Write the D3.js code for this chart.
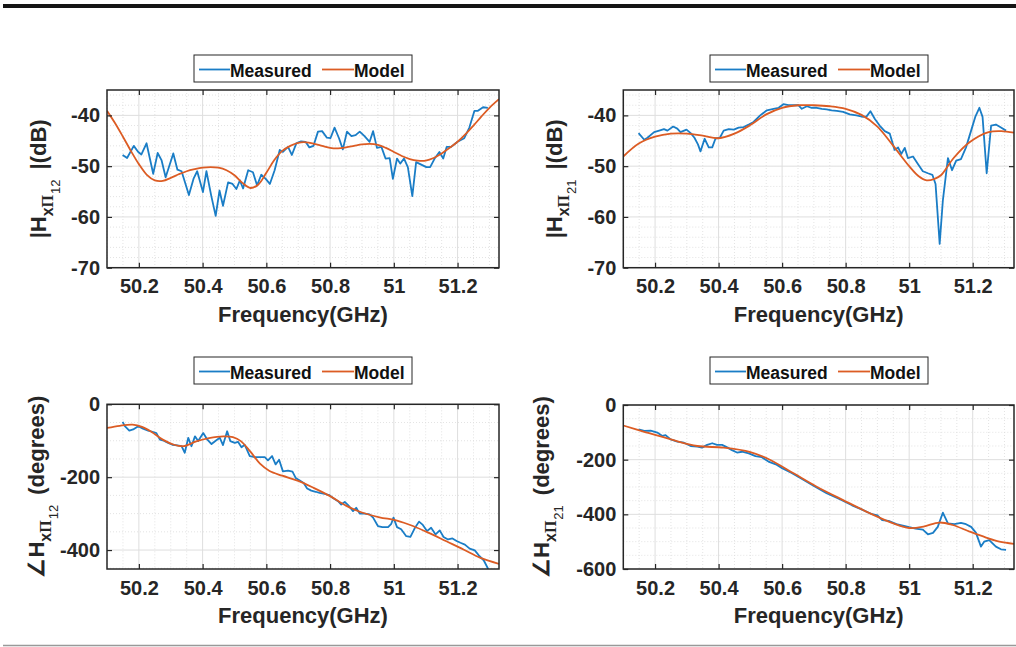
<!DOCTYPE html>
<html>
<head>
<meta charset="utf-8">
<script src="https://cdn.jsdelivr.net/npm/d3@7"></script>
<style>
  body { margin: 0; background: #fff; }
  svg { display: block; font-family: "Liberation Sans", Arial, sans-serif; }
</style>
</head>
<body>
<svg id="chart" width="1016" height="647"></svg>
<script>
// ---- data (frequency in GHz, value) ----
var mag12Measured = [[50.149,-47.8],[50.163,-48.4],[50.184,-46.0],[50.198,-47.2],[50.208,-47.7],[50.224,-45.5],[50.245,-51.5],[50.259,-47.4],[50.271,-48.8],[50.284,-52.2],[50.308,-47.5],[50.321,-50.7],[50.334,-51.0],[50.357,-55.7],[50.372,-52.4],[50.383,-51.0],[50.401,-55.1],[50.412,-51.0],[50.427,-55.8],[50.441,-59.8],[50.453,-54.8],[50.464,-57.8],[50.480,-53.2],[50.494,-53.5],[50.506,-54.5],[50.517,-52.8],[50.527,-54.4],[50.543,-50.8],[50.558,-51.2],[50.571,-53.8],[50.584,-51.7],[50.598,-52.5],[50.611,-53.5],[50.626,-50.8],[50.642,-46.8],[50.652,-47.2],[50.668,-46.2],[50.680,-47.8],[50.694,-45.5],[50.709,-45.1],[50.723,-45.2],[50.735,-46.3],[50.748,-46.0],[50.762,-43.2],[50.775,-43.1],[50.790,-44.4],[50.801,-44.5],[50.814,-42.4],[50.828,-44.5],[50.840,-46.7],[50.853,-43.2],[50.867,-44.1],[50.880,-43.9],[50.893,-43.2],[50.908,-44.1],[50.924,-45.2],[50.935,-43.1],[50.947,-46.4],[50.961,-46.2],[50.974,-48.5],[50.987,-48.4],[50.997,-52.5],[51.010,-48.5],[51.020,-49.5],[51.032,-48.5],[51.044,-50.2],[51.058,-55.9],[51.070,-49.2],[51.086,-49.7],[51.102,-50.2],[51.114,-50.2],[51.128,-48.5],[51.143,-47.2],[51.155,-48.5],[51.166,-46.2],[51.180,-46.2],[51.200,-45.2],[51.221,-44.5],[51.237,-42.4],[51.253,-39.1],[51.264,-39.1],[51.280,-38.4],[51.295,-38.5]];
var mag12Model = [[50.10,-39.1],[50.125,-41.5],[50.15,-44.2],[50.175,-47.0],[50.20,-49.6],[50.225,-51.7],[50.25,-52.8],[50.275,-52.9],[50.30,-52.3],[50.325,-51.6],[50.35,-51.0],[50.375,-50.6],[50.40,-50.3],[50.425,-50.2],[50.45,-50.3],[50.475,-50.8],[50.50,-51.8],[50.525,-53.3],[50.55,-54.3],[50.575,-53.6],[50.60,-51.3],[50.625,-48.8],[50.65,-47.0],[50.675,-46.0],[50.70,-45.4],[50.725,-45.3],[50.75,-45.6],[50.775,-46.0],[50.80,-46.4],[50.825,-46.5],[50.85,-46.3],[50.875,-46.0],[50.90,-45.7],[50.925,-45.6],[50.95,-45.8],[50.975,-46.4],[51.00,-47.2],[51.025,-48.0],[51.05,-48.6],[51.075,-48.9],[51.10,-48.9],[51.125,-48.4],[51.15,-47.5],[51.175,-46.4],[51.20,-45.2],[51.225,-43.7],[51.25,-42.0],[51.275,-40.2],[51.30,-38.5],[51.33,-36.8]];

var mag21Measured = [[50.148,-43.5],[50.166,-44.8],[50.176,-44.4],[50.197,-43.3],[50.213,-43.0],[50.228,-42.7],[50.239,-43.0],[50.257,-42.2],[50.270,-42.6],[50.280,-43.3],[50.299,-42.8],[50.312,-43.5],[50.324,-44.4],[50.335,-45.7],[50.343,-47.1],[50.356,-44.6],[50.369,-46.3],[50.380,-46.3],[50.390,-44.6],[50.404,-44.4],[50.416,-43.0],[50.432,-42.7],[50.448,-42.8],[50.463,-42.4],[50.479,-42.3],[50.495,-41.8],[50.510,-41.3],[50.531,-40.0],[50.552,-39.0],[50.573,-38.7],[50.589,-38.5],[50.604,-37.8],[50.620,-38.0],[50.636,-38.0],[50.651,-38.0],[50.662,-38.7],[50.678,-38.2],[50.693,-38.5],[50.709,-38.5],[50.725,-38.7],[50.740,-38.8],[50.756,-39.0],[50.772,-39.1],[50.792,-39.3],[50.813,-39.8],[50.834,-40.0],[50.855,-40.3],[50.866,-40.2],[50.878,-39.2],[50.892,-40.7],[50.907,-42.0],[50.923,-43.1],[50.939,-43.6],[50.947,-45.3],[50.954,-46.8],[50.965,-46.3],[50.975,-47.6],[50.986,-46.4],[50.996,-48.4],[51.012,-48.1],[51.028,-49.6],[51.043,-51.0],[51.059,-51.4],[51.073,-51.7],[51.083,-53.5],[51.096,-65.3],[51.106,-56.8],[51.122,-48.4],[51.135,-50.8],[51.148,-48.9],[51.163,-48.6],[51.179,-46.3],[51.195,-43.0],[51.208,-40.3],[51.221,-38.5],[51.231,-40.3],[51.244,-51.4],[51.258,-42.0],[51.273,-41.8],[51.289,-42.4],[51.305,-43.0]];
var mag21Model = [[50.10,-48.1],[50.15,-45.5],[50.20,-44.2],[50.25,-43.6],[50.30,-43.6],[50.35,-44.0],[50.40,-44.5],[50.45,-43.6],[50.50,-41.9],[50.55,-39.8],[50.60,-38.5],[50.65,-38.0],[50.70,-38.0],[50.75,-38.2],[50.80,-38.7],[50.85,-39.9],[50.90,-42.2],[50.95,-46.0],[51.00,-50.0],[51.03,-52.0],[51.055,-52.8],[51.08,-52.5],[51.10,-51.8],[51.14,-48.4],[51.19,-45.3],[51.25,-43.3],[51.29,-43.1],[51.33,-43.4]];

var phase12Measured = [[50.149,-48],[50.156,-60],[50.170,-72],[50.182,-69],[50.198,-60],[50.213,-67],[50.229,-72],[50.245,-76],[50.255,-79],[50.266,-97],[50.278,-100],[50.292,-106],[50.305,-111],[50.320,-113],[50.334,-115],[50.344,-133],[50.355,-92],[50.365,-115],[50.376,-88],[50.386,-101],[50.402,-79],[50.415,-97],[50.428,-109],[50.441,-100],[50.454,-92],[50.464,-112],[50.477,-74],[50.487,-101],[50.501,-106],[50.511,-103],[50.522,-118],[50.532,-111],[50.548,-142],[50.564,-145],[50.579,-145],[50.595,-145],[50.605,-154],[50.618,-142],[50.629,-165],[50.640,-152],[50.652,-184],[50.668,-182],[50.682,-185],[50.692,-202],[50.705,-209],[50.717,-216],[50.728,-231],[50.741,-237],[50.755,-240],[50.767,-243],[50.783,-246],[50.797,-249],[50.809,-257],[50.825,-266],[50.835,-275],[50.846,-268],[50.859,-279],[50.872,-293],[50.882,-284],[50.893,-300],[50.908,-300],[50.924,-302],[50.935,-311],[50.950,-334],[50.964,-337],[50.982,-337],[50.992,-328],[50.999,-311],[51.010,-337],[51.023,-343],[51.039,-362],[51.052,-364],[51.065,-341],[51.079,-322],[51.091,-331],[51.104,-348],[51.117,-339],[51.131,-357],[51.144,-346],[51.156,-364],[51.170,-371],[51.184,-368],[51.197,-375],[51.209,-380],[51.223,-385],[51.238,-396],[51.254,-401],[51.269,-417],[51.282,-428],[51.296,-452]];
var phase12Model = [[50.10,-65],[50.14,-59],[50.18,-56],[50.21,-62],[50.24,-76],[50.275,-97],[50.31,-111],[50.34,-115],[50.38,-102],[50.42,-93],[50.465,-88],[50.495,-90],[50.52,-101],[50.55,-130],[50.58,-163],[50.61,-183],[50.65,-196],[50.70,-210],[50.75,-230],[50.80,-252],[50.85,-278],[50.90,-297],[50.955,-310],[51.01,-319],[51.06,-334],[51.11,-353],[51.165,-376],[51.22,-399],[51.27,-421],[51.33,-438]];

var phase21Measured = [[50.148,-89],[50.166,-95],[50.186,-94],[50.207,-101],[50.223,-113],[50.233,-110],[50.249,-126],[50.270,-134],[50.291,-138],[50.312,-150],[50.333,-152],[50.348,-156],[50.364,-146],[50.380,-140],[50.395,-146],[50.411,-146],[50.427,-155],[50.442,-165],[50.458,-174],[50.474,-171],[50.495,-177],[50.516,-187],[50.536,-191],[50.557,-207],[50.58,-217],[50.60,-231],[50.63,-249],[50.66,-269],[50.70,-296],[50.74,-323],[50.78,-344],[50.82,-367],[50.85,-382],[50.88,-398],[50.90,-404],[50.915,-421],[50.935,-424],[50.96,-436],[50.98,-441],[51.00,-447],[51.02,-452],[51.043,-456],[51.059,-473],[51.075,-468],[51.090,-446],[51.106,-394],[51.122,-433],[51.142,-436],[51.163,-431],[51.179,-436],[51.195,-446],[51.210,-467],[51.226,-518],[51.236,-500],[51.252,-494],[51.273,-518],[51.289,-528],[51.305,-530]];
var phase21Model = [[50.10,-75],[50.166,-98],[50.25,-126],[50.333,-150],[50.416,-156],[50.50,-172],[50.563,-201],[50.636,-250],[50.709,-299],[50.792,-348],[50.876,-396],[50.95,-433],[51.00,-450],[51.045,-445],[51.095,-430],[51.137,-439],[51.19,-463],[51.242,-485],[51.284,-500],[51.33,-508]];

var freqRange = [50.1, 51.33];
var xTicks = [50.2, 50.4, 50.6, 50.8, 51, 51.2];
var magTicks = [-70, -60, -50, -40];
var phase12Ticks = [-400, -200, 0];
var phase21Ticks = [-600, -400, -200, 0];
var legendLabels = ["Measured", "Model"];
var xLabel = "Frequency(GHz)";

var blue = "#1a7dc6", orange = "#dc5c24", ink = "#262626";

var svg = d3.select("#chart");

// frame lines of the figure
svg.append("line").attr("x1", 3).attr("x2", 1016).attr("y1", 6).attr("y2", 6)
  .attr("stroke", "#151515").attr("stroke-width", 4);
svg.append("line").attr("x1", 3).attr("x2", 1016).attr("y1", 645.5).attr("y2", 645.5)
  .attr("stroke", "#999").attr("stroke-width", 1.5);

var panels = [
  { id: "p1", left: 107, right: 499, top: 90, bottom: 267.7, yDomain: [-70, -35], yTicks: magTicks, yMinor: 2,
    meas: mag12Measured, model: mag12Model, legX: 194, legY: 55, labX: 46, labY: 322, sign: "|H", idx: "12", unit: "|(dB)" },
  { id: "p2", left: 623.3, right: 1014, top: 90, bottom: 267.7, yDomain: [-70, -35], yTicks: magTicks, yMinor: 2,
    meas: mag21Measured, model: mag21Model, legX: 710, legY: 55, labX: 562, labY: 322, sign: "|H", idx: "21", unit: "|(dB)" },
  { id: "p3", left: 107, right: 499, top: 404.3, bottom: 569, yDomain: [-452, 0], yTicks: phase12Ticks, yMinor: 50,
    meas: phase12Measured, model: phase12Model, legX: 194, legY: 357, labX: 44, labY: 623, sign: "\u2220H", idx: "12", unit: "(degrees)" },
  { id: "p4", left: 623.3, right: 1014, top: 405, bottom: 569, yDomain: [-600, 0], yTicks: phase21Ticks, yMinor: 50,
    meas: phase21Measured, model: phase21Model, legX: 710, legY: 357, labX: 549, labY: 623, sign: "\u2220H", idx: "21", unit: "(degrees)" }
];

panels.forEach(drawPanel);

function drawPanel(p) {
  var x = d3.scaleLinear().domain(freqRange).range([p.left, p.right]);
  var y = d3.scaleLinear().domain(p.yDomain).range([p.bottom, p.top]);
  var g = svg.append("g");

  // minor grid
  var xMinor = d3.range(0, 25).map(function(i) { return +(50.1 + i * 0.05).toFixed(2); })
    .filter(function(v) { return v <= freqRange[1] && xTicks.indexOf(v) < 0; });
  var yMinorVals = d3.range(p.yDomain[0], p.yDomain[1] + 0.01, p.yMinor)
    .map(function(v) { return Math.round(v / p.yMinor) * p.yMinor; })
    .filter(function(v) { return v > p.yDomain[0] && v < p.yDomain[1] && p.yTicks.indexOf(v) < 0; });
  g.selectAll(".mx").data(xMinor).enter().append("line")
    .attr("x1", x).attr("x2", x).attr("y1", p.top).attr("y2", p.bottom)
    .attr("stroke", "#dcdcdc").attr("stroke-width", 0.8).attr("stroke-dasharray", "1,2");
  g.selectAll(".my").data(yMinorVals).enter().append("line")
    .attr("x1", p.left).attr("x2", p.right).attr("y1", y).attr("y2", y)
    .attr("stroke", "#dcdcdc").attr("stroke-width", 0.8).attr("stroke-dasharray", "1,2");

  // major grid
  g.selectAll(".gx").data(xTicks).enter().append("line")
    .attr("x1", x).attr("x2", x).attr("y1", p.top).attr("y2", p.bottom)
    .attr("stroke", "#dedede").attr("stroke-width", 1);
  g.selectAll(".gy").data(p.yTicks).enter().append("line")
    .attr("x1", p.left).attr("x2", p.right).attr("y1", y).attr("y2", y)
    .attr("stroke", "#dedede").attr("stroke-width", 1);

  // curves
  svg.append("clipPath").attr("id", "clip-" + p.id).append("rect")
    .attr("x", p.left).attr("y", p.top).attr("width", p.right - p.left).attr("height", p.bottom - p.top);
  var plot = g.append("g").attr("clip-path", "url(#clip-" + p.id + ")");
  var lineMeas = d3.line().x(function(d) { return x(d[0]); }).y(function(d) { return y(d[1]); });
  var lineModel = d3.line().x(function(d) { return x(d[0]); }).y(function(d) { return y(d[1]); })
    .curve(d3.curveCatmullRom.alpha(0.5));
  plot.append("path").datum(p.meas).attr("d", lineMeas)
    .attr("fill", "none").attr("stroke", blue).attr("stroke-width", 1.8).attr("stroke-linejoin", "round");
  plot.append("path").datum(p.model).attr("d", lineModel)
    .attr("fill", "none").attr("stroke", orange).attr("stroke-width", 1.8);

  // axes with inward ticks (plain hyphen for negatives, as in the figure)
  var fmt = function(d) { return String(+d.toFixed(1)); };
  var ax = g.append("g").attr("transform", "translate(0," + p.bottom + ")")
    .call(d3.axisBottom(x).tickValues(xTicks).tickSizeInner(-5).tickSizeOuter(0).tickPadding(11.5).tickFormat(fmt));
  var at = g.append("g").attr("transform", "translate(0," + p.top + ")")
    .call(d3.axisTop(x).tickValues(xTicks).tickSizeInner(-5).tickSizeOuter(0).tickFormat(""));
  var al = g.append("g").attr("transform", "translate(" + p.left + ",0)")
    .call(d3.axisLeft(y).tickValues(p.yTicks).tickSizeInner(-5).tickSizeOuter(0).tickPadding(7).tickFormat(fmt));
  var ar = g.append("g").attr("transform", "translate(" + p.right + ",0)")
    .call(d3.axisRight(y).tickValues(p.yTicks).tickSizeInner(-5).tickSizeOuter(0).tickFormat(""));
  [ax, at, al, ar].forEach(function(a) {
    a.select(".domain").remove();
    a.selectAll("line").attr("stroke", ink).attr("stroke-width", 1.2);
    a.selectAll("text").attr("fill", ink).style("font-size", "20px").style("font-weight", "bold")
      .style("font-family", '"Liberation Sans", Arial, sans-serif');
  });

  g.append("rect").attr("x", p.left).attr("y", p.top)
    .attr("width", p.right - p.left).attr("height", p.bottom - p.top)
    .attr("fill", "none").attr("stroke", ink).attr("stroke-width", 1.5);

  // x label
  g.append("text").attr("x", (p.left + p.right) / 2).attr("y", p.labY)
    .attr("text-anchor", "middle").attr("fill", ink)
    .style("font-size", "22px").style("font-weight", "bold").text(xLabel);

  // y label
  var yl = g.append("text")
    .attr("transform", "translate(" + p.labX + "," + ((p.top + p.bottom) / 2) + ") rotate(-90)")
    .attr("text-anchor", "middle").attr("fill", ink)
    .style("font-size", "22px").style("font-weight", "bold");
  yl.append("tspan").text(p.sign);
  yl.append("tspan").attr("dy", 7).style("font-size", "16px").text("x");
  yl.append("tspan").style("font-size", "16px").style("font-family", '"Liberation Serif", serif').text("\u03a0");
  yl.append("tspan").attr("dy", 7).attr("dx", 1).style("font-size", "13px").style("font-weight", "normal").text(p.idx);
  yl.append("tspan").attr("dy", -14).attr("dx", 10).text(p.unit);

  // legend
  var lg = g.append("g").attr("transform", "translate(" + p.legX + "," + p.legY + ")");
  lg.append("rect").attr("width", 218).attr("height", 27)
    .attr("fill", "#fff").attr("stroke", ink).attr("stroke-width", 1);
  var items = [{ x0: 5, x1: 36, c: blue }, { x0: 128, x1: 160, c: orange }];
  items.forEach(function(it, i) {
    lg.append("line").attr("x1", it.x0).attr("x2", it.x1).attr("y1", 14.5).attr("y2", 14.5)
      .attr("stroke", it.c).attr("stroke-width", 1.8);
    lg.append("text").attr("x", it.x1).attr("y", 22).attr("fill", "#111")
      .style("font-size", "17.5px").style("font-weight", "bold").text(legendLabels[i]);
  });
}
</script>
</body>
</html>
